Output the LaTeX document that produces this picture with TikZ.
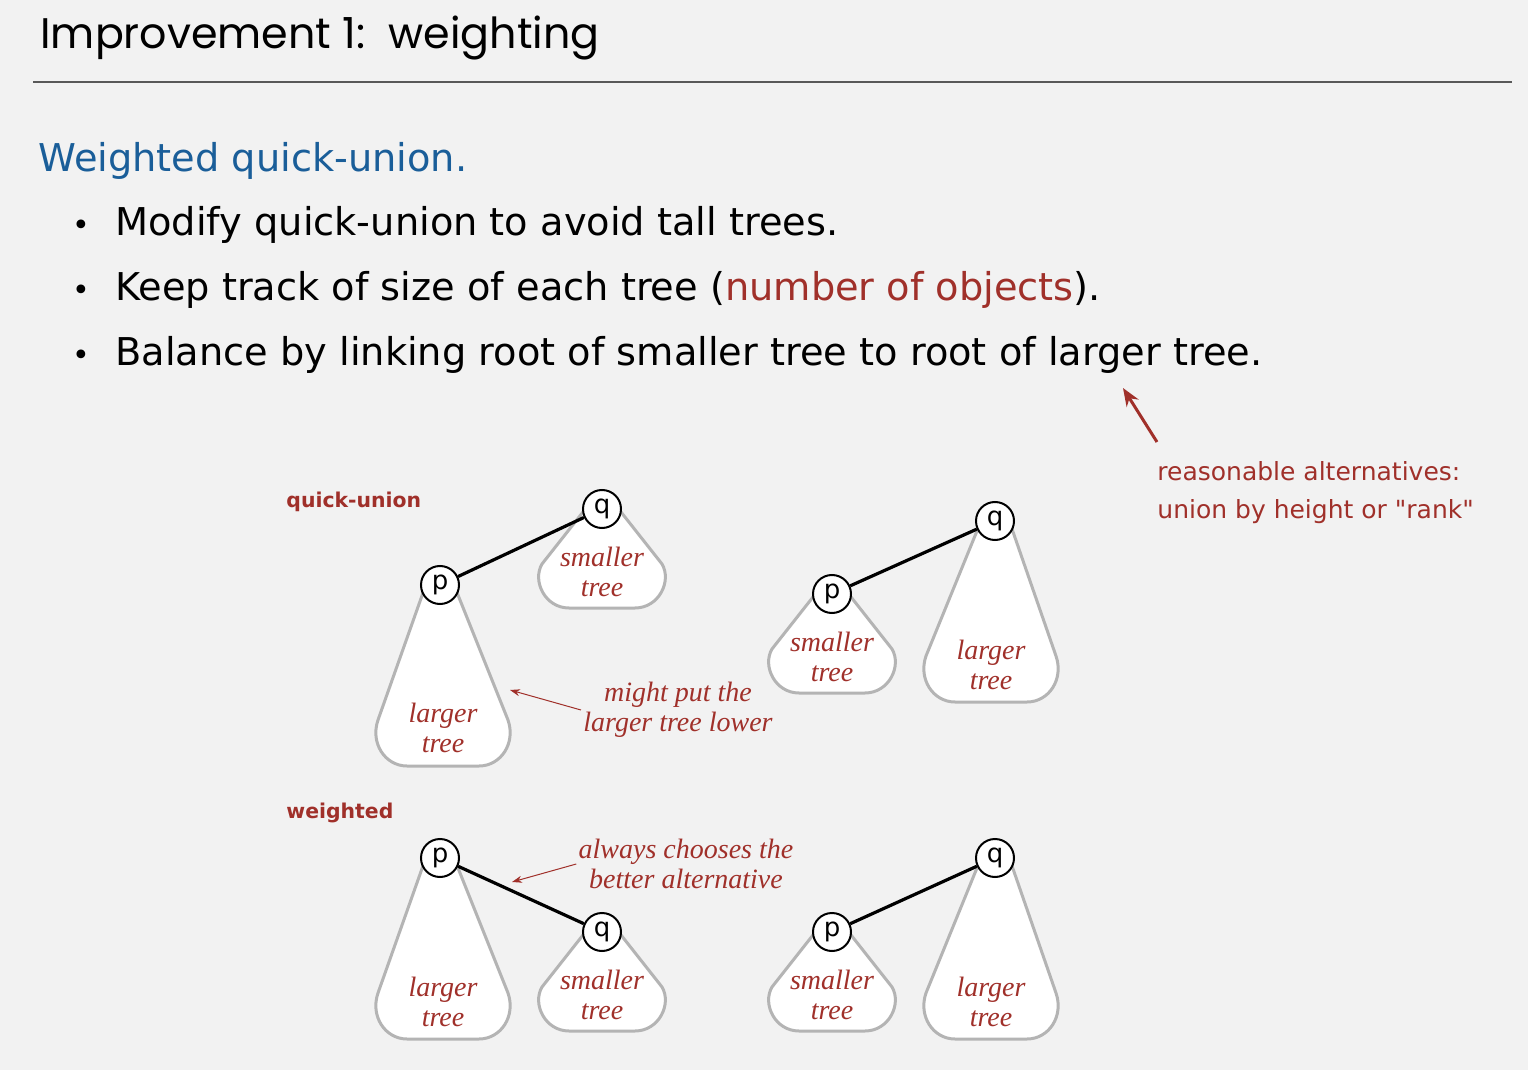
\documentclass[tikz,border=0pt]{standalone}
\usepackage{fontspec}
\setmainfont{DejaVu Sans}[Ligatures=TeXOff]
\newfontfamily\titlefont{Poppins}
\newfontfamily\notefont{Liberation Serif}
\usetikzlibrary{arrows.meta}

\definecolor{slidegray}{RGB}{242,242,242}
\definecolor{headblue}{RGB}{26,94,153}
\definecolor{darkred}{RGB}{160,48,42}
\definecolor{treegray}{RGB}{180,180,180}

% outline of a big tree below its root at (#1,#2), bottom moved sideways by #3
\newcommand{\bigtree}[3]{%
  \draw[treeline] (#1-16,#2+5) -- (#1+#3-65,#2+135)
    .. controls (#1+#3-73,#2+158) and (#1+#3-58,#2+181) .. (#1+#3-36,#2+181)
    -- (#1+#3+36,#2+181) .. controls (#1+#3+58,#2+181) and (#1+#3+73,#2+158) .. (#1+#3+65,#2+135)
    -- (#1+16,#2+5);}
% outline of a small tree below its root at (#1,#2)
\newcommand{\smalltree}[2]{%
  \draw[treeline] (#1-19,#2+3) -- (#1-60,#2+55)
    .. controls (#1-70,#2+72) and (#1-57,#2+99) .. (#1-33,#2+99)
    -- (#1+33,#2+99) .. controls (#1+57,#2+99) and (#1+70,#2+72) .. (#1+60,#2+55)
    -- (#1+19,#2+3);}

\begin{document}
\begin{tikzpicture}[x=0.5pt,y=-0.5pt,
    treeline/.style={draw=treegray,line width=1.5pt,fill=white},
    root/.style={circle,draw,line width=1pt,fill=white,minimum size=19pt,inner sep=0pt,
      font=\fontsize{13}{13}\selectfont},
    link/.style={line width=1.6pt},
    treetext/.style={text=darkred,align=center,font=\notefont\itshape\fontsize{14}{15}\selectfont},
    bullettext/.style={anchor=base west,inner sep=0pt,font=\fontsize{19.15}{23}\selectfont},
    casename/.style={anchor=base west,inner sep=0pt,text=darkred,font=\bfseries\fontsize{10.2}{12}\selectfont},
    thinarrow/.style={darkred,line width=0.5pt,-{Stealth[length=5pt,width=3.5pt]}}]

\useasboundingbox (0,0) rectangle (1528,1070);
\fill[slidegray] (0,0) rectangle (1528,1070);

% slide head
\node[anchor=base west,inner sep=0pt,font=\titlefont\fontsize{21.4}{26}\selectfont] (title) at (40,49)
  {Improvement 1:\ \ weighting};
\draw[line width=1pt,black!65] (33,82) -- (1512,82);

\node[anchor=base west,inner sep=0pt,text=headblue,font=\fontsize{19.15}{23}\selectfont] (head) at (38,172)
  {Weighted quick-union.};
\foreach \y/\txt [count=\i] in {235/{Modify quick-union to avoid tall trees.},
    300/{Keep track of size of each tree (\textcolor{darkred}{number of objects}).},
    365/{Balance by linking root of smaller tree to root of larger tree.}}
  {
  \node[anchor=base,inner sep=0pt,font=\fontsize{15}{15}\selectfont] (dot\i) at (81,\y) {•};
  \node[bullettext] (item\i) at (115,\y) {\txt};
  }

% note on the right
\node[anchor=west,inner sep=0pt,text=darkred,align=left,font=\fontsize{12.5}{19}\selectfont] (altnote) at (1157,493)
  {reasonable alternatives:\\union by height or "rank"};
\coordinate (alttail) at (1157,442);
\coordinate (alttip) at (1123,388);
\draw[darkred,line width=1.5pt,-{Stealth[length=9pt,width=7pt]}] (alttail) -- (alttip);

\node[casename] (qu) at (286,507) {quick-union};
\node[casename] (wt) at (286,818) {weighted};

% trees
\bigtree{440}{585}{3}
\smalltree{602}{509}
\bigtree{995}{521}{-4}
\smalltree{832}{594}
\bigtree{440}{858}{3}
\smalltree{602}{932}
\bigtree{995}{858}{-4}
\smalltree{832}{932}

\node[treetext] (big1) at (443,728) {larger\\tree};
\node[treetext] (small1) at (602,572) {smaller\\tree};
\node[treetext] (big2) at (991,665) {larger\\tree};
\node[treetext] (small2) at (832,657) {smaller\\tree};
\node[treetext] (big3) at (443,1002) {larger\\tree};
\node[treetext] (small3) at (602,995) {smaller\\tree};
\node[treetext] (big4) at (991,1002) {larger\\tree};
\node[treetext] (small4) at (832,995) {smaller\\tree};

% roots
\node[root] (p1) at (440,585) {p};
\node[root] (q1) at (602,509) {q};
\node[root] (q2) at (995,521) {q};
\node[root] (p2) at (832,594) {p};
\node[root] (p3) at (440,858) {p};
\node[root] (q3) at (602,932) {q};
\node[root] (q4) at (995,858) {q};
\node[root] (p4) at (832,932) {p};

\draw[link] (p1) -- (q1);
\draw[link] (p2) -- (q2);
\draw[link] (p3) -- (q3);
\draw[link] (p4) -- (q4);

% comments on the pictures
\node[treetext,inner sep=1pt] (mightnote) at (678,710) {might put the\\larger tree lower};
\coordinate (mighttip) at (510,690);
\draw[thinarrow] (mightnote.west) -- (mighttip);
\node[treetext,inner sep=1pt] (alwaysnote) at (686,864) {always chooses the\\better alternative};
\coordinate (alwaystip) at (512,882);
\draw[thinarrow] (alwaysnote.west) -- (alwaystip);
\end{tikzpicture}
\end{document}
